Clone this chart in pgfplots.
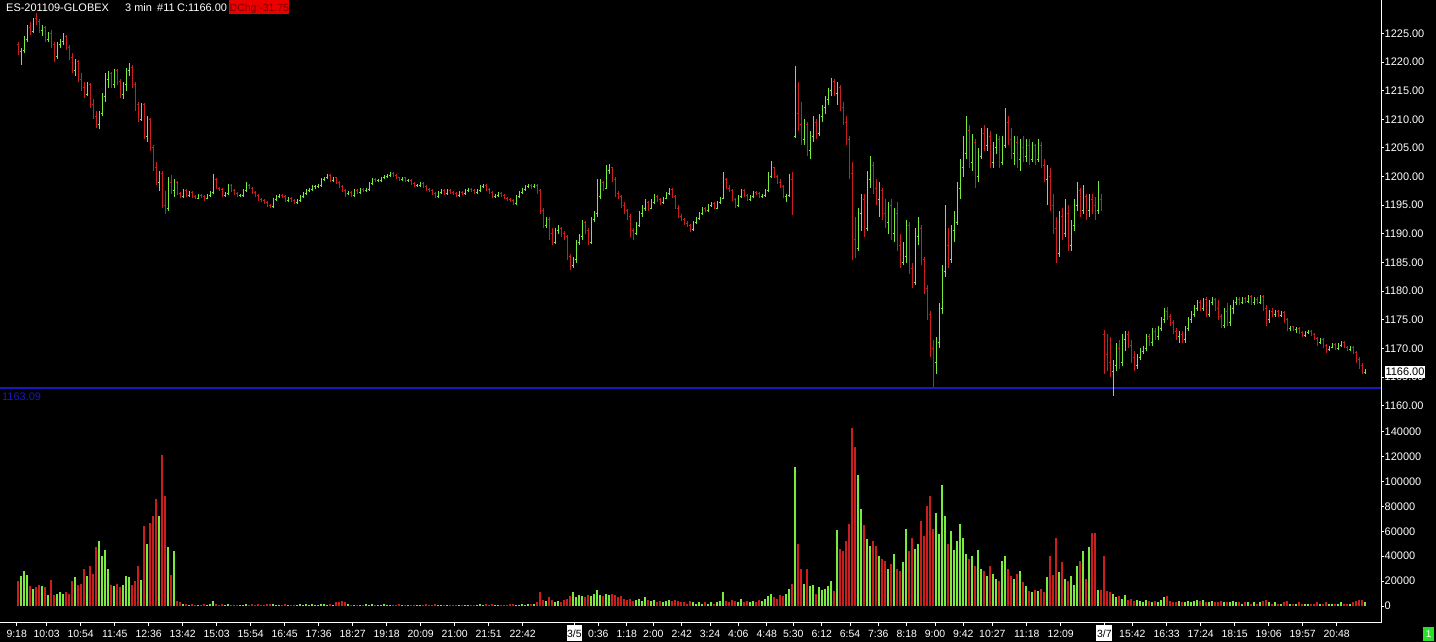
\documentclass[border=0pt]{standalone}
\usepackage{pgfplots}
\pgfplotsset{compat=1.18}
\usepackage{pgfplotstable}
\usepackage{fontspec}
\setmainfont{Liberation Sans}
\definecolor{upg}{RGB}{120,235,60}
\definecolor{dnr}{RGB}{205,30,30}
\definecolor{blu}{RGB}{25,25,190}
\definecolor{hdrred}{RGB}{235,0,0}
\definecolor{hdrtxt}{RGB}{120,0,0}
\definecolor{boxgreen}{RGB}{40,225,40}
\newcommand{\daybox}[1]{\raisebox{0pt}[7.5bp][0pt]{\setlength{\fboxsep}{0.6bp}\colorbox{white}{\rule[-3.3bp]{0pt}{15.2bp}\textcolor{black}{#1}}}}
\pgfplotstableread{
o h l c v
1223 1223.5 1221.25 1221.75 20
1221.75 1222.5 1219.5 1222 24
1222 1224.5 1221.5 1224 28
1224 1226.5 1223.5 1226 25
1226 1227 1224.75 1225.25 16
1225.25 1227.75 1225 1227.5 14
1227.5 1228.5 1226.5 1227 15
1227 1227.5 1225 1225.5 17
1225.5 1226.5 1224.5 1226 16
1226 1226.25 1223.5 1224 15
1224 1225.25 1223.5 1225 9
1225 1225.5 1222.5 1223 21
1223 1223.5 1220 1221 9
1221 1223.5 1220.5 1223 10
1223 1224 1222.5 1223.5 11
1223.5 1225 1223 1224.5 10
1224.5 1224.75 1222 1222.5 11
1222.5 1223 1220.25 1220.75 10
1220.75 1221.5 1218 1218.5 20
1218.5 1220.5 1217.5 1220 23
1220 1220.25 1216.5 1217 17
1217 1218 1215 1215.5 18
1215.5 1216.5 1213.75 1214.25 30
1214.25 1216.5 1214 1216 24
1216 1216.25 1212 1212.5 32
1212.5 1213.5 1210 1210.5 26
1210.5 1211.5 1208.5 1209 47
1209 1211.5 1208.25 1211 52
1211 1214.5 1210.5 1214 40
1214 1218 1213 1217 45
1217 1218.5 1215.5 1218 30
1218 1218.25 1215.5 1216 17
1216 1218.75 1215.5 1218.5 16
1218.5 1218.75 1216 1216.5 18
1216.5 1217 1213.75 1214.25 15
1214.25 1216.5 1213.5 1216 17
1216 1219 1215 1218.5 24
1218.5 1219.75 1217.5 1219 23
1219 1219.5 1215.5 1216 17
1216 1216.5 1211.5 1212.5 20
1212.5 1213 1209.5 1210 32
1210 1212.75 1209.75 1212.5 21
1212.5 1212.75 1206.5 1207 64
1207 1210.5 1206 1210 50
1210 1210.25 1204.5 1205 67
1205 1205.5 1201 1201.5 72
1201.5 1202.5 1198.5 1199 86
1199 1201 1197.5 1200.5 72
1200.5 1201 1194.5 1195 121
1195 1197.5 1193.5 1194.5 88
1194.5 1200 1194 1199 47
1199 1200.25 1197 1197.5 25
1197.5 1199.5 1196.5 1199 44
1199 1199.25 1196.75 1197 4
1197 1197.25 1196.25 1196.5 3
1196.5 1197.75 1196.25 1197.5 2
1197.5 1197.75 1196.5 1196.75 2
1196.75 1197.5 1196.5 1197.25 1
1197.25 1197.5 1196.25 1196.5 2
1196.5 1196.75 1196 1196.25 1
1196.25 1197 1196 1196.75 1
1196.75 1197 1196.25 1196.5 1
1196.5 1196.75 1195.75 1196.25 2
1196.25 1197 1196 1196.75 1
1196.75 1197.5 1196.5 1197.25 2
1197.25 1200.5 1197 1199.5 4
1199.5 1199.75 1197.75 1198 2
1198 1198.25 1197.5 1197.75 1
1197.75 1198 1196.5 1196.75 2
1196.75 1197.25 1196.5 1197 1
1197 1198.75 1196.75 1198.5 2
1198.5 1198.75 1197.25 1197.5 1
1197.5 1197.75 1196.75 1197 1
1197 1197.25 1196.5 1196.75 1
1196.75 1197 1196.5 1196.75 1
1196.75 1197.75 1196.5 1197.5 1
1197.5 1199 1197.25 1198.5 2
1198.5 1198.75 1197.75 1198 1
1198 1198.25 1197 1197.25 2
1197.25 1197.5 1196.5 1196.75 1
1196.75 1197 1195.75 1196 2
1196 1196.25 1195.5 1195.75 1
1195.75 1196 1195.25 1195.5 1
1195.5 1195.75 1194.75 1195 2
1195 1195.25 1194.5 1194.75 2
1194.75 1196.25 1194.5 1196 2
1196 1196.75 1195.75 1196.5 1
1196.5 1197 1196.25 1196.75 1
1196.75 1197 1196.25 1196.5 1
1196.5 1196.75 1195.5 1195.75 2
1195.75 1196.5 1195.5 1196.25 1
1196.25 1196.5 1195.5 1195.75 1
1195.75 1196 1195.25 1195.5 1
1195.5 1196 1195.25 1195.75 1
1195.75 1196.75 1195.5 1196.5 2
1196.5 1197.25 1196.25 1197 1
1197 1197.75 1196.75 1197.5 2
1197.5 1198 1197.25 1197.75 1
1197.75 1198.5 1197.5 1198.25 2
1198.25 1198.5 1197.75 1198.25 1
1198.25 1198.75 1198 1198.5 1
1198.5 1199.75 1198.25 1199.5 2
1199.5 1200 1199.25 1199.75 2
1199.75 1200.5 1199.5 1200.25 1
1200.25 1200.5 1199 1199.25 2
1199.25 1200 1199 1199.75 1
1199.75 1200 1198.75 1199 3
1199 1199.25 1198 1198.25 3
1198.25 1198.5 1197.25 1197.5 4
1197.5 1197.75 1196.5 1197 3
1197 1197.5 1196.75 1197.25 2
1197.25 1197.5 1196.5 1196.75 1
1196.75 1197.75 1196.5 1197.5 1
1197.5 1197.75 1197 1197.25 1
1197.25 1198 1197 1197.75 1
1197.75 1198 1197.25 1197.5 1
1197.5 1198 1197.25 1197.75 2
1197.75 1199 1197.5 1198.75 1
1198.75 1199.75 1198.5 1199.5 2
1199.5 1199.75 1199 1199.25 1
1199.25 1199.5 1199 1199.25 1
1199.25 1200 1199 1199.75 1
1199.75 1200.25 1199.5 1200 2
1200 1200.5 1199.75 1200.25 1
1200.25 1200.75 1200 1200.5 1
1200.5 1200.75 1200 1200.25 1
1200.25 1200.5 1199.5 1199.75 1
1199.75 1200 1199.25 1199.5 2
1199.5 1200 1199.25 1199.75 1
1199.75 1200 1199 1199.25 1
1199.25 1199.5 1199 1199.25 1
1199.25 1199.5 1198.5 1198.75 1
1198.75 1199 1198.25 1198.5 1
1198.5 1198.75 1198.25 1198.5 1
1198.5 1199 1198.25 1198.75 1
1198.75 1199 1198 1198.25 1
1198.25 1198.5 1197.5 1197.75 2
1197.75 1198 1197.25 1197.5 1
1197.5 1197.75 1196.75 1197 1
1197 1197.25 1196.25 1196.5 2
1196.5 1197.5 1196.25 1197.25 1
1197.25 1197.75 1197 1197.5 1
1197.5 1197.75 1196.75 1197 1
1197 1197.75 1196.75 1197.5 1
1197.5 1197.75 1197 1197.25 1
1197.25 1197.5 1196.75 1197 1
1197 1197.25 1196.5 1196.75 1
1196.75 1197.5 1196.5 1197.25 1
1197.25 1197.5 1196.75 1197 1
1197 1197.75 1196.75 1197.5 1
1197.5 1198 1197.25 1197.75 1
1197.75 1198 1197.25 1197.5 1
1197.5 1197.75 1197 1197.25 1
1197.25 1197.75 1197 1197.5 1
1197.5 1198.5 1197.25 1198.25 2
1198.25 1198.75 1198 1198.5 1
1198.5 1198.75 1197.5 1197.75 2
1197.75 1198 1197 1197.25 1
1197.25 1197.5 1196.25 1196.5 2
1196.5 1197 1196.25 1196.75 1
1196.75 1197.25 1196.5 1197 1
1197 1197.25 1196.5 1196.75 1
1196.75 1197 1196 1196.25 1
1196.25 1196.5 1195.75 1196 1
1196 1196.25 1195.5 1195.75 2
1195.75 1196 1195 1195.25 2
1195.25 1196.75 1195 1196.5 1
1196.5 1197.5 1196.25 1197.25 1
1197.25 1198 1197 1197.75 2
1197.75 1198.5 1197.5 1198.25 1
1198.25 1198.75 1198 1198.5 2
1198.5 1198.75 1197.75 1198.25 2
1198.25 1198.75 1198 1198.5 2
1198.5 1198.75 1197 1197.5 3
1197.5 1197.75 1193.5 1194 11
1194 1194.5 1191 1191.5 5
1191.5 1193 1191 1192.5 4
1192.5 1193 1189 1190 7
1190 1191 1188 1188.5 5
1188.5 1191 1188.25 1190.5 3
1190.5 1191.5 1190 1191 4
1191 1191.25 1189.5 1190 3
1190 1190.5 1189 1189.5 5
1189.5 1189.75 1185.5 1186 6
1186 1186.5 1183.75 1184.5 8
1184.5 1186 1184 1185.5 11
1185.5 1189 1185 1188.5 7
1188.5 1190 1188 1189.5 9
1189.5 1192.5 1189 1192 8
1192 1192.25 1190 1190.5 7
1190.5 1191 1188 1188.5 9
1188.5 1193 1188.25 1192.5 8
1192.5 1194 1192 1193.5 10
1193.5 1199.5 1193 1196.5 13
1196.5 1199.5 1196 1199 9
1199 1199.25 1197.5 1198 8
1198 1202 1197.75 1201 10
1201 1202.25 1200.5 1201.5 9
1201.5 1201.75 1199 1199.5 10
1199.5 1200 1196.5 1197 9
1197 1197.5 1196 1196.5 7
1196.5 1196.75 1194.5 1195 8
1195 1195.5 1193.5 1194 6
1194 1194.25 1192.5 1193 5
1193 1193.5 1189.5 1190.5 6
1190.5 1191 1189 1190 4
1190 1192 1189.75 1191.5 5
1191.5 1194 1191.25 1193.5 6
1193.5 1195 1193 1194.5 4
1194.5 1196 1194 1195.5 7
1195.5 1195.75 1194 1194.5 5
1194.5 1196 1194.25 1195.5 4
1195.5 1197 1195.25 1196.5 5
1196.5 1196.75 1195.5 1196 3
1196 1196.25 1195 1195.5 4
1195.5 1196.5 1195.25 1196.25 3
1196.25 1197.25 1196 1197 4
1197 1198 1196.75 1197.75 5
1197.75 1198 1196.25 1196.5 4
1196.5 1196.75 1194.25 1194.5 5
1194.5 1195 1192.75 1193 4
1193 1193.5 1192.25 1192.5 3
1192.5 1192.75 1191.5 1191.75 3
1191.75 1192.25 1191.25 1191.5 2
1191.5 1191.75 1190.25 1190.75 4
1190.75 1192.25 1190.5 1192 3
1192 1193 1191.75 1192.75 2
1192.75 1193.75 1192.5 1193.5 3
1193.5 1194.75 1193.25 1194.5 2
1194.5 1194.75 1193.75 1194 3
1194 1195.25 1193.75 1195 2
1195 1195.5 1194.75 1195.25 3
1195.25 1195.5 1194.25 1194.5 2
1194.5 1195.75 1194.25 1195.5 3
1195.5 1196.5 1195.25 1196.25 4
1196.25 1200.75 1196 1199.5 11
1199.5 1199.75 1197.75 1198 4
1198 1198.5 1197.25 1197.5 3
1197.5 1197.75 1195.75 1196 5
1196 1196.25 1194.5 1195 4
1195 1196.75 1194.75 1196.5 3
1196.5 1197.75 1196.25 1197.5 6
1197.5 1197.75 1196.5 1196.75 3
1196.75 1197 1195.75 1196 4
1196 1196.75 1195.75 1196.5 3
1196.5 1197.5 1196.25 1197.25 4
1197.25 1197.5 1196.75 1197 3
1197 1197.25 1196.25 1196.5 5
1196.5 1197 1196.25 1196.75 4
1196.75 1197.75 1196.5 1197.5 6
1197.5 1200.75 1197.25 1200 8
1200 1202.75 1199.75 1201.5 10
1201.5 1201.75 1199.75 1200 7
1200 1200.25 1198.75 1199 6
1199 1199.5 1198 1198.25 9
1198.25 1198.5 1196.25 1196.5 8
1196.5 1197 1195.5 1196.75 10
1196.75 1200.5 1196.5 1199.5 14
1199.5 1200.75 1193.25 1193.5 18
1207 1219.25 1206.75 1211 112
1211 1216.5 1208 1209 50
1209 1213 1205.5 1206.5 30
1206.5 1210 1205.5 1209 18
1209 1209.5 1203.5 1204.5 30
1204.5 1208 1203 1207 16
1207 1210.5 1206 1209.5 17
1209.5 1210 1206.5 1207.5 10
1207.5 1211 1207 1210.5 15
1210.5 1212.5 1209.5 1212 13
1212 1214 1211 1213.5 14
1213.5 1215.5 1212.5 1215 16
1215 1217.25 1214 1216.5 20
1216.5 1217 1214 1214.5 12
1214.5 1216.5 1212.5 1215.5 61
1215.5 1216 1211.5 1212 46
1212 1213 1209 1209.5 44
1209.5 1210.5 1205.5 1206.5 52
1206.5 1207 1199.5 1200.5 66
1200.5 1202.5 1185.5 1189 143
1189 1193 1185.75 1187.5 128
1187.5 1194.5 1187 1193.5 105
1193.5 1197 1190.5 1196 78
1196 1197 1189.5 1191 65
1191 1201 1190.5 1199.5 54
1199.5 1203.5 1198 1202 48
1202 1202.5 1197 1198 52
1198 1199.5 1195 1196 48
1196 1199 1193 1197.5 40
1197.5 1198 1192.5 1193.5 38
1193.5 1196 1191 1192 36
1192 1195.5 1190 1195 30
1195 1196 1189 1190 34
1190 1194.5 1188.5 1193.5 42
1193.5 1195.5 1187 1188 30
1188 1190 1184 1185 28
1185 1188.5 1184.5 1186 35
1186 1192.5 1185 1191.5 62
1191.5 1192 1183 1184 44
1184 1185 1180.5 1181.5 55
1181.5 1191 1181 1189.5 46
1189.5 1193 1188 1191 50
1191 1191.5 1184.5 1185.5 68
1185.5 1186 1179.5 1180.5 56
1180.5 1181 1175 1176 80
1176 1176.5 1168.5 1170 88
1170 1171.5 1163.25 1167.5 62
1167.5 1172 1165.5 1171 75
1171 1178 1170 1177 58
1177 1184.5 1176 1183.5 97
1183.5 1195 1182.5 1188 72
1188 1191 1184 1185.5 50
1185.5 1191.5 1185 1190.5 60
1190.5 1194 1188.5 1192 45
1192 1199 1191.5 1198 52
1198 1203 1196 1201.5 66
1201.5 1207 1200 1204 55
1204 1210.5 1203 1208 42
1208 1209 1201.5 1202.5 38
1202.5 1207.5 1201 1206 40
1206 1206.5 1198 1200 32
1200 1205 1199 1203.5 45
1203.5 1208.5 1203 1207.5 30
1207.5 1209 1204.5 1205.5 28
1205.5 1208.5 1204.5 1207 24
1207 1208 1201.5 1202.5 32
1202.5 1206 1201.5 1205 26
1205 1207.5 1204 1206.5 22
1206.5 1207 1201.5 1202.5 20
1202.5 1207 1202 1205.5 36
1205.5 1212 1205 1209.5 40
1209.5 1210.5 1205.5 1206.5 30
1206.5 1208.5 1203 1204 24
1204 1207 1202 1206 22
1206 1207 1201.5 1203 26
1203 1206.5 1201 1205 28
1205 1207 1202.5 1203.5 19
1203.5 1206.5 1202.5 1205.5 16
1205.5 1206.5 1202 1203 12
1203 1206 1202.5 1205.5 11
1205.5 1205.75 1202 1203 13
1203 1206.5 1202.5 1205.5 12
1205.5 1206 1201.5 1202 14
1202 1203 1199 1199.5 11
1199.5 1202 1195 1200 23
1200 1201.5 1194 1195 40
1195 1197 1190 1191 25
1191 1193 1185 1186.5 55
1186.5 1194 1186 1193 27
1193 1194.5 1189 1190 35
1190 1196 1189.5 1193.5 22
1193.5 1195 1187 1188 20
1188 1192.5 1187 1191.5 24
1191.5 1196 1190.5 1195 17
1195 1199 1194 1197.5 32
1197.5 1198 1193 1194 36
1194 1198.5 1193.5 1196.5 44
1196.5 1197 1192.5 1194 22
1194 1197 1193 1196 47
1196 1197 1193.5 1195 59
1195 1196.5 1192.5 1194 59
1194 1199.25 1193.5 1196 13
1196 1197 1194 1195 13
1172.5 1173.25 1165.5 1169 40
1169 1172.5 1166 1167.5 12
1167.5 1172 1165 1166 11
1166 1168 1161.75 1167 10
1167 1171 1166 1170 7
1170 1171.5 1166.5 1167.5 8
1167.5 1172.5 1167 1171.5 6
1171.5 1173 1169.5 1172.5 9
1172.5 1173 1170 1170.5 5
1170.5 1171.5 1167.5 1168.5 6
1168.5 1169.5 1166 1167 4
1167 1169 1166.5 1168.5 5
1168.5 1170 1168 1169.5 4
1169.5 1170.5 1169 1170 3
1170 1172.5 1169.5 1172 5
1172 1172.5 1170.5 1171 4
1171 1173.5 1170.5 1173 3
1173 1173.5 1171.5 1172 4
1172 1174 1171.5 1173.5 3
1173.5 1175.5 1173 1175 5
1175 1177 1174.5 1176.5 7
1176.5 1177.25 1175 1175.5 8
1175.5 1176 1174 1174.5 4
1174.5 1175 1172.5 1173 3
1173 1173.5 1171.5 1172 3
1172 1173 1171 1172.5 4
1172.5 1173 1171 1171.25 3
1171.5 1174 1171 1173.5 3
1173.5 1175.5 1173 1175 4
1175 1176.5 1174.5 1176 3
1176 1177.5 1175.5 1177 4
1177 1178.5 1176.5 1178 5
1178 1178.5 1176.5 1177 4
1177 1178.75 1176.5 1178.5 5
1178.5 1179 1175.5 1176 3
1176 1178.5 1175.5 1178 3
1178 1179 1177.5 1178.5 4
1178.5 1178.75 1176.5 1177 3
1177 1178.5 1175 1175.5 3
1175.5 1176 1173.5 1174 4
1174 1177 1173.5 1176.5 3
1176.5 1178 1174 1174.5 3
1174.5 1177.5 1174 1177 3
1177 1178.5 1176 1178 4
1178 1179 1177.5 1178.5 3
1178.5 1179 1177.5 1178 3
1178 1179 1177.75 1178.75 2
1178.75 1179 1178 1178.25 3
1178.25 1179.25 1178 1179 3
1179 1179.25 1177.5 1178 2
1178 1179 1177.5 1178.5 3
1178.5 1179 1177.75 1178 2
1178 1179.25 1177.75 1179 3
1179 1179.25 1176.5 1177 4
1177 1177.5 1174 1175 5
1175 1176.75 1174.5 1176.5 3
1176.5 1177 1175.5 1176 2
1176 1176.75 1175.5 1176.5 3
1176.5 1176.75 1175.5 1175.75 2
1175.75 1176.5 1175.5 1176.25 2
1176.25 1176.5 1174.5 1175 3
1175 1175.25 1173 1173.5 4
1173.5 1174 1173 1173.75 2
1173.75 1174 1173 1173.25 2
1173.25 1173.75 1172.75 1173.5 2
1173.5 1173.75 1172.5 1172.75 3
1172.75 1173 1172 1172.25 2
1172.25 1173 1172 1172.75 2
1172.75 1173.25 1172.5 1173 2
1173 1173.25 1172.25 1172.5 2
1172.5 1172.75 1171.5 1171.75 2
1171.75 1172 1170.5 1171 3
1171 1171.75 1170.75 1171.5 2
1171.5 1171.75 1170 1170.5 2
1170.5 1170.75 1169.25 1169.75 3
1169.75 1170.5 1169.5 1170.25 2
1170.25 1171 1170 1170.75 2
1170.75 1171 1169.75 1170 2
1170 1171 1169.75 1170.5 2
1170.5 1171.25 1170.25 1171 3
1171 1171.25 1170 1170.25 2
1170.25 1170.5 1169.5 1169.75 2
1169.75 1170.5 1169.5 1170.25 2
1170.25 1170.5 1169 1169.25 3
1169.25 1169.5 1167.5 1168 4
1168 1168.5 1166.5 1167 5
1167 1167.5 1165.5 1165.75 5
1165.75 1166.5 1165.5 1166 3
}\bars
\pgfplotsset{
  upbar/.style={restrict expr to domain={\thisrow{c}-\thisrow{o}}{0:1000}},
  dnbar/.style={restrict expr to domain={\thisrow{c}-\thisrow{o}}{-1000:-0.01}},
}
\begin{document}
\begin{tikzpicture}[x=1bp,y=1bp]
\path[use as bounding box] (0,0) rectangle (1436,642);
\fill[black] (0,0) rectangle (1436,642);
% price panel
\begin{axis}[
  at={(0bp,227bp)}, anchor=south west, scale only axis,
  width=1381bp, height=415bp,
  xmin=0, xmax=1381, ymin=1158.39, ymax=1230.81,
  axis line style={draw=none},
  xtick=\empty,
  ytick={1160,1165,1170,1175,1180,1185,1190,1195,1200,1205,1210,1215,1220,1225},
  ytick pos=upper, yticklabel pos=upper,
  tick align=outside, major tick length=3bp,
  tick style={white, line width=0.8bp},
  /pgf/number format/assume math mode=true,
  scaled y ticks=false,
  yticklabel style={white, font=\fontsize{11}{12}\selectfont, anchor=west, inner sep=0.5bp,
    /pgf/number format/fixed, /pgf/number format/fixed zerofill,
    /pgf/number format/precision=2, /pgf/number format/1000 sep={}},
]
\addplot[blu, line width=1.2bp] coordinates {(0,1163.09) (1381,1163.09)};
\addplot[upg, line width=1bp, upbar, quiver={u=0, v=\thisrow{h}-\thisrow{l}}] table[x expr=18+3*\coordindex, y=l]{\bars};
\addplot[upg, line width=1bp, upbar, quiver={u=-1.3, v=0}] table[x expr=18+3*\coordindex, y=o]{\bars};
\addplot[upg, line width=1bp, upbar, quiver={u=1.3, v=0}] table[x expr=18+3*\coordindex, y=c]{\bars};
\addplot[dnr, line width=1bp, dnbar, quiver={u=0, v=\thisrow{h}-\thisrow{l}}] table[x expr=18+3*\coordindex, y=l]{\bars};
\addplot[dnr, line width=1bp, dnbar, quiver={u=-1.3, v=0}] table[x expr=18+3*\coordindex, y=o]{\bars};
\addplot[dnr, line width=1bp, dnbar, quiver={u=1.3, v=0}] table[x expr=18+3*\coordindex, y=c]{\bars};
\end{axis}
% volume panel
\begin{axis}[
  at={(0bp,19bp)}, anchor=south west, scale only axis,
  width=1381bp, height=205bp,
  xmin=0, xmax=1381, ymin=-13.65, ymax=151.0,
  axis line style={draw=none},
  ytick={0,20,40,60,80,100,120,140},
  yticklabels={0,20000,40000,60000,80000,100000,120000,140000},
  ytick pos=upper, yticklabel pos=upper,
  xtick pos=lower, xticklabel pos=lower,
  tick align=outside, major tick length=3bp,
  tick style={white, line width=0.8bp},
  yticklabel style={white, font=\fontsize{11}{12}\selectfont, anchor=west, inner sep=0.5bp},
  xticklabel style={white, font=\fontsize{10.5}{12}\selectfont, anchor=north, inner sep=0pt, yshift=-3.7bp},
  xtick={16.7,46.7,80.7,114.7,148.7,182.7,216.7,250.7,284.7,318.7,352.7,386.7,420.7,454.7,488.7,522.7,574.4,598.3,626.7,653.3,681.7,710,738.3,766.7,793.3,821.7,850,878.3,906.7,935,963.3,992.3,1026.7,1060.7,1104.3,1132.3,1166.7,1200.7,1234.7,1268.7,1302.7,1336.7},
  xticklabels={9:18,10:03,10:54,11:45,12:36,13:42,15:03,15:54,16:45,17:36,18:27,19:18,20:09,21:00,21:51,22:42,\daybox{3/5},0:36,1:18,2:00,2:42,3:24,4:06,4:48,5:30,6:12,6:54,7:36,8:18,9:00,9:42,10:27,11:18,12:09,\daybox{3/7},15:42,16:33,17:24,18:15,19:06,19:57,20:48},
]
\addplot[upg, line width=1.6bp, upbar, quiver={u=0, v=\thisrow{v}}] table[x expr=18+3*\coordindex, y expr=0]{\bars};
\addplot[dnr, line width=1.6bp, dnbar, quiver={u=0, v=\thisrow{v}}] table[x expr=18+3*\coordindex, y expr=0]{\bars};
\end{axis}
% frame lines
\draw[white, line width=1bp] (0,19) -- (1381,19) -- (1381,642);
% header
\node[white, anchor=base west, inner sep=0, font=\fontsize{11}{12}\selectfont] at (6,630.3) {ES-201109-GLOBEX};
\node[white, anchor=base west, inner sep=0, font=\fontsize{11}{12}\selectfont] at (125,630.3) {3 min};
\node[white, anchor=base west, inner sep=0, font=\fontsize{11}{12}\selectfont] at (157,630.3) {\#11};
\node[white, anchor=base west, inner sep=0, font=\fontsize{11}{12}\selectfont] at (177,630.3) {C:1166.00};
\fill[hdrred] (229,628) rectangle (289,642);
\node[hdrtxt, anchor=base west, inner sep=0, font=\fontsize{10.5}{12}\selectfont] at (229.5,630.3) {DChg:-31.75};
% reference line label
\node[blu, anchor=base west, inner sep=0, font=\fontsize{11}{12}\selectfont] at (2,241) {1163.09};
% last price box
\fill[white] (1385,263.7) rectangle (1425,276.3);
\node[black, anchor=center, inner sep=0, font=\fontsize{11}{12}\selectfont] at (1405,270) {1166.00};
% status box
\fill[boxgreen] (1423,0.7) rectangle (1434,14.7);
\node[white, anchor=center, inner sep=0, font=\fontsize{10}{12}\selectfont] at (1428.5,7.7) {1};
\end{tikzpicture}
\end{document}
